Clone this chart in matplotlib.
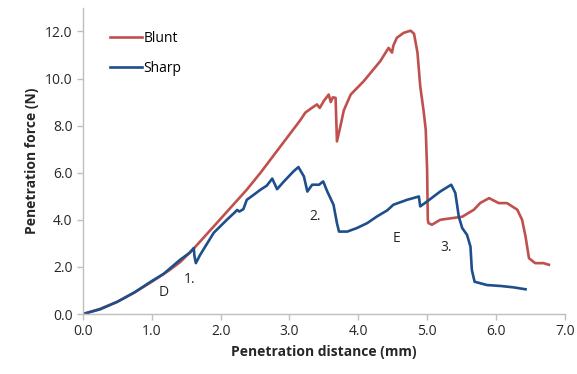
import matplotlib
matplotlib.use("Agg")
import matplotlib.pyplot as plt

# Blunt needle: penetration distance (mm) vs force (N)
blunt_x = [0, 0.25, 0.5, 0.75, 1.0, 1.25, 1.41, 1.6, 1.9, 2.1, 2.38, 2.58, 2.87, 3.02, 3.15,
           3.23, 3.30, 3.40, 3.44, 3.50, 3.57, 3.60, 3.63, 3.67, 3.69, 3.74, 3.79, 3.89,
           4.08, 4.32, 4.44, 4.49, 4.51, 4.56, 4.66, 4.76, 4.81, 4.86, 4.90, 4.95, 4.98,
           5.00, 5.01, 5.02, 5.07, 5.19, 5.36, 5.51, 5.68, 5.77, 5.90, 6.04, 6.16, 6.31,
           6.38, 6.43, 6.48, 6.57, 6.69, 6.77]
blunt_y = [0, 0.22, 0.52, 0.92, 1.37, 1.85, 2.2, 2.75, 3.72, 4.37, 5.28, 6.0, 7.12, 7.7, 8.2,
           8.55, 8.7, 8.9, 8.75, 9.05, 9.32, 9.0, 9.2, 9.18, 7.33, 7.97, 8.65, 9.32,
           9.89, 10.74, 11.3, 11.1, 11.4, 11.73, 11.94, 12.03, 11.9, 11.1, 9.67, 8.6, 7.83,
           6.13, 4.0, 3.86, 3.79, 4.0, 4.07, 4.13, 4.43, 4.71, 4.92, 4.71, 4.71, 4.43,
           4.0, 3.29, 2.37, 2.16, 2.16, 2.09]

# Sharp needle
sharp_x = [0, 0.25, 0.5, 0.75, 1.0, 1.17, 1.41, 1.55, 1.61, 1.62, 1.64, 1.70, 1.90, 2.09,
           2.2, 2.24, 2.27, 2.33, 2.38, 2.48, 2.58, 2.67, 2.75, 2.82, 2.92, 3.06, 3.13,
           3.21, 3.26, 3.33, 3.43, 3.49, 3.55, 3.64, 3.69, 3.72, 3.84, 3.98, 4.13, 4.27,
           4.42, 4.51, 4.71, 4.88, 4.90, 5.00, 5.19, 5.35, 5.41, 5.46, 5.51, 5.58, 5.63,
           5.65, 5.69, 5.87, 6.07, 6.26, 6.43]
sharp_y = [0, 0.2, 0.52, 0.92, 1.4, 1.7, 2.3, 2.6, 2.8, 2.45, 2.16, 2.5, 3.45, 4.0,
           4.3, 4.42, 4.35, 4.45, 4.85, 5.06, 5.28, 5.45, 5.75, 5.3, 5.63, 6.06, 6.24,
           5.84, 5.2, 5.49, 5.49, 5.63, 5.2, 4.64, 3.86, 3.5, 3.5, 3.65, 3.86, 4.14,
           4.4, 4.64, 4.85, 4.99, 4.57, 4.78, 5.2, 5.49, 5.14, 4.14, 3.65, 3.36, 2.86,
           1.87, 1.37, 1.23, 1.19, 1.13, 1.05]

# Region annotations
note_text = ["D", "1.", "2.", "E", "3."]
note_x = [1.17, 1.55, 3.38, 4.55, 5.28]
note_y = [0.91, 1.45, 4.14, 3.22, 2.84]

plt.rcParams['font.family'] = ['Open Sans', 'DejaVu Sans']

fig = plt.figure(figsize=(5.77, 3.74), dpi=100)
ax = fig.add_axes([0.1438, 0.1604, 0.835, 0.8186])

ax.plot(blunt_x, blunt_y, color='#c0504d', lw=1.9, label='Blunt', solid_joinstyle='round')
ax.plot(sharp_x, sharp_y, color='#1f4e8c', lw=1.9, label='Sharp', solid_joinstyle='round')

for t, x, y in zip(note_text, note_x, note_y):
    ax.text(x, y, t, fontsize=10, ha='center', va='center', color='#262626')

ax.set_xlim(0, 7)
ax.set_ylim(0, 13)
ax.set_xticks(range(8))
ax.set_xticklabels([f"{v:.1f}" for v in range(8)])
ax.set_yticks(range(0, 13, 2))
ax.set_yticklabels([f"{v:.1f}" for v in range(0, 13, 2)])

for side in ['top', 'right']:
    ax.spines[side].set_visible(False)
for side in ['left', 'bottom']:
    ax.spines[side].set_color('#bfbfbf')
    ax.spines[side].set_linewidth(1)
ax.tick_params(colors='#bfbfbf', length=4, width=1, labelcolor='#262626', labelsize=10)

ax.set_xlabel("Penetration distance (mm)", fontsize=10, fontweight='bold', color='#262626')
ax.set_ylabel("Penetration force (N)", fontsize=10, fontweight='bold', color='#262626')

ax.legend(loc='upper left', bbox_to_anchor=(0.03, 0.965), frameon=False, fontsize=10,
          handlelength=2.3, handletextpad=0.1, labelspacing=1.1)

fig.savefig("out.png", dpi=100)
